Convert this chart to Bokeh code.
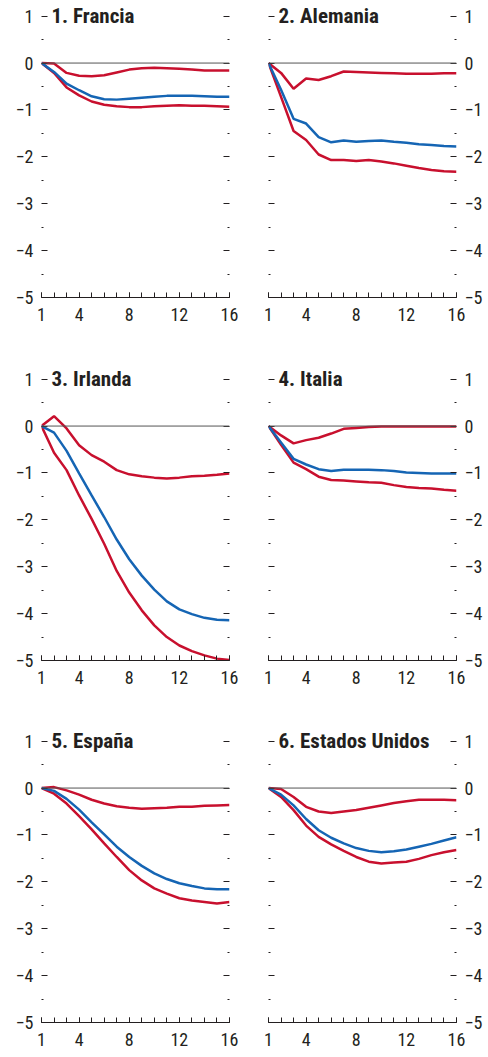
from bokeh.plotting import figure
from bokeh.layouts import column, row
from bokeh.models import LinearAxis, FixedTicker, Range1d, Label, Span
from bokeh.embed import file_html
from bokeh.resources import INLINE

# Quarters after the shock
quarters = list(range(1, 17))

# Central estimate (blue) and confidence band (red) per country
francia_mid = [0, -0.19, -0.44, -0.58, -0.71, -0.77, -0.78, -0.76, -0.74, -0.72, -0.70, -0.70, -0.70, -0.71, -0.72, -0.72]
francia_hi = [0, -0.01, -0.21, -0.27, -0.28, -0.26, -0.20, -0.14, -0.11, -0.10, -0.11, -0.12, -0.14, -0.16, -0.16, -0.16]
francia_lo = [0, -0.21, -0.52, -0.69, -0.82, -0.89, -0.92, -0.94, -0.94, -0.92, -0.91, -0.90, -0.91, -0.91, -0.92, -0.93]

alemania_mid = [0, -0.57, -1.19, -1.29, -1.58, -1.69, -1.65, -1.68, -1.66, -1.65, -1.68, -1.70, -1.73, -1.75, -1.77, -1.78]
alemania_hi = [0, -0.21, -0.55, -0.33, -0.36, -0.28, -0.18, -0.19, -0.20, -0.21, -0.22, -0.23, -0.23, -0.23, -0.22, -0.22]
alemania_lo = [0, -0.72, -1.45, -1.64, -1.95, -2.07, -2.07, -2.09, -2.07, -2.10, -2.14, -2.19, -2.24, -2.28, -2.31, -2.32]

irlanda_mid = [0, -0.14, -0.53, -1.01, -1.48, -1.94, -2.42, -2.84, -3.19, -3.49, -3.74, -3.91, -4.01, -4.09, -4.13, -4.14]
irlanda_hi = [0, 0.21, -0.05, -0.41, -0.62, -0.76, -0.94, -1.03, -1.07, -1.10, -1.12, -1.10, -1.07, -1.06, -1.04, -1.01]
irlanda_lo = [0, -0.57, -0.94, -1.48, -1.98, -2.51, -3.09, -3.55, -3.93, -4.25, -4.50, -4.68, -4.80, -4.89, -4.96, -4.99]

italia_mid = [0, -0.35, -0.70, -0.82, -0.92, -0.96, -0.93, -0.93, -0.93, -0.94, -0.96, -0.99, -1.00, -1.01, -1.01, -1.01]
italia_hi = [0, -0.20, -0.37, -0.30, -0.25, -0.16, -0.06, -0.04, -0.02, -0.01, -0.01, -0.01, -0.01, -0.01, -0.01, -0.01]
italia_lo = [0, -0.40, -0.78, -0.92, -1.08, -1.15, -1.16, -1.18, -1.20, -1.21, -1.26, -1.30, -1.32, -1.33, -1.36, -1.38]

espana_mid = [0, -0.06, -0.23, -0.46, -0.73, -0.99, -1.25, -1.47, -1.66, -1.82, -1.94, -2.03, -2.09, -2.14, -2.16, -2.16]
espana_hi = [0, 0.02, -0.05, -0.14, -0.25, -0.33, -0.39, -0.42, -0.44, -0.43, -0.42, -0.40, -0.40, -0.38, -0.37, -0.36]
espana_lo = [0, -0.12, -0.33, -0.60, -0.88, -1.18, -1.47, -1.75, -1.97, -2.14, -2.25, -2.35, -2.40, -2.43, -2.46, -2.43]

eeuu_mid = [0, -0.14, -0.37, -0.66, -0.90, -1.06, -1.18, -1.28, -1.34, -1.37, -1.35, -1.31, -1.25, -1.19, -1.12, -1.05]
eeuu_hi = [0, -0.02, -0.19, -0.40, -0.50, -0.53, -0.50, -0.47, -0.42, -0.37, -0.32, -0.28, -0.25, -0.25, -0.25, -0.26]
eeuu_lo = [0, -0.19, -0.47, -0.80, -1.04, -1.20, -1.34, -1.47, -1.57, -1.61, -1.59, -1.57, -1.51, -1.43, -1.37, -1.32]

titles = ["1. Francia", "2. Alemania", "3. Irlanda", "4. Italia", "5.  España", "6. Estados Unidos"]

y_major = [-5, -4, -3, -2, -1, 0, 1]
y_minor = [-4.5, -3.5, -2.5, -1.5, -0.5, 0.5]
x_labelled = [1, 4, 8, 12, 16]

FONT = "'Liberation Sans Narrow', 'Arial Narrow', 'Roboto Condensed', 'Liberation Sans', sans-serif"
BLUE = "#1565b4"
RED = "#c8102e"
INK = "#231f20"

# Headroom above the top tick so the panel titles are not clipped
Y_TOP = 1.27


def y_label(v):
    return ("\u2212" + str(abs(v))) if v < 0 else str(v)


def y_axis(show_labels):
    ax = LinearAxis(ticker=FixedTicker(ticks=y_major, minor_ticks=y_minor))
    ax.axis_line_color = None
    ax.major_tick_in = 6
    ax.major_tick_out = 0
    ax.minor_tick_in = 2
    ax.minor_tick_out = 0
    ax.major_tick_line_color = INK
    ax.minor_tick_line_color = INK
    ax.major_label_overrides = {v: y_label(v) for v in y_major}
    ax.major_label_text_font = FONT
    ax.major_label_text_font_size = "18px"
    ax.major_label_text_color = INK if show_labels else None
    ax.major_label_standoff = 8
    return ax


def panel(title, mid, hi, lo, side, top, bottom):
    if side == "left":
        bl, br = 41, 15
    else:
        bl, br = 24, 32
    p = figure(frame_width=188, frame_height=294,
               min_border_left=bl, min_border_right=br,
               min_border_top=top, min_border_bottom=bottom,
               x_range=Range1d(1, 16), y_range=Range1d(-5, Y_TOP),
               x_axis_location=None, y_axis_location=None,
               toolbar_location=None, output_backend="svg")
    p.outline_line_color = None
    p.background_fill_color = "white"
    p.border_fill_color = "white"
    p.grid.visible = False

    # Zero reference line
    p.add_layout(Span(location=0, dimension="width", line_color="#555555", line_width=1))

    p.line(quarters, hi, line_color=RED, line_width=2.5)
    p.line(quarters, lo, line_color=RED, line_width=2.5)
    p.line(quarters, mid, line_color=BLUE, line_width=2.5)

    # Horizontal axis: tick every quarter, labels at a few
    xa = LinearAxis(ticker=FixedTicker(ticks=x_labelled, minor_ticks=quarters))
    xa.axis_line_color = INK
    xa.axis_line_width = 1
    xa.major_tick_in = 5
    xa.major_tick_out = 0
    xa.minor_tick_in = 5
    xa.minor_tick_out = 0
    xa.major_tick_line_color = INK
    xa.minor_tick_line_color = INK
    xa.major_label_text_font = FONT
    xa.major_label_text_font_size = "18px"
    xa.major_label_text_color = INK
    xa.major_label_standoff = 10
    p.add_layout(xa, "below")

    p.add_layout(y_axis(side == "left"), "left")
    p.add_layout(y_axis(side == "right"), "right")

    p.add_layout(Label(x=1, y=1, x_offset=10, text=title, text_font=FONT,
                       text_font_size="21px", text_font_style="bold",
                       text_color=INK, text_baseline="middle"))
    return p


data = [
    (francia_mid, francia_hi, francia_lo),
    (alemania_mid, alemania_hi, alemania_lo),
    (irlanda_mid, irlanda_hi, irlanda_lo),
    (italia_mid, italia_hi, italia_lo),
    (espana_mid, espana_hi, espana_lo),
    (eeuu_mid, eeuu_hi, eeuu_lo),
]
tops = [3, 19, 18]
bottoms = [50, 50, 34]

rows = []
for r in range(3):
    pair = []
    for c in range(2):
        i = 2 * r + c
        mid, hi, lo = data[i]
        pair.append(panel(titles[i], mid, hi, lo, "left" if c == 0 else "right",
                          tops[r], bottoms[r]))
    rows.append(row(*pair, spacing=0))

layout = column(*rows, spacing=0)

with open("out.html", "w") as f:
    f.write(file_html(layout, INLINE))
